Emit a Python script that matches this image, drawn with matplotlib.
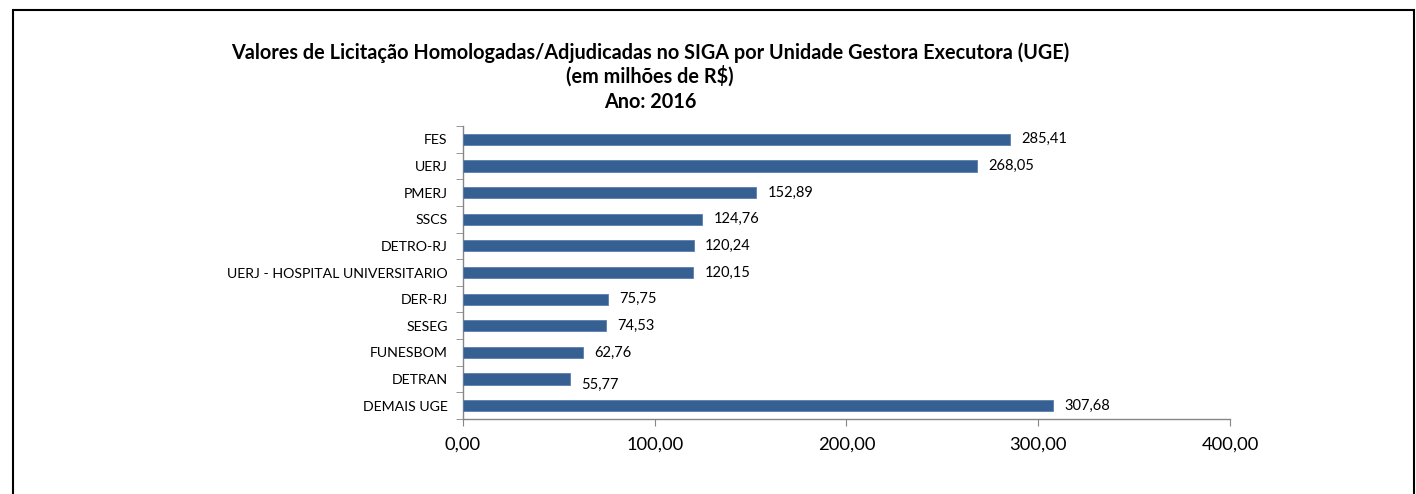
import matplotlib
matplotlib.use("Agg")
import matplotlib.pyplot as plt
from matplotlib.patches import Rectangle

categories = ["FES", "UERJ", "PMERJ", "SSCS", "DETRO-RJ", "UERJ - HOSPITAL UNIVERSITARIO",
              "DER-RJ", "SESEG", "FUNESBOM", "DETRAN", "DEMAIS UGE"]
values = [285.41, 268.05, 152.89, 124.76, 120.24, 120.15, 75.75, 74.53, 62.76, 55.77, 307.68]
value_labels = ["285,41", "268,05", "152,89", "124,76", "120,24", "120,15",
                "75,75", "74,53", "62,76", "55,77", "307,68"]
xticks = [0, 100, 200, 300, 400]
xtick_labels = ["0,00", "100,00", "200,00", "300,00", "400,00"]
title_lines = ["Valores de Licitação Homologadas/Adjudicadas no SIGA por Unidade Gestora Executora (UGE)",
               "(em milhões de R$)", "Ano: 2016"]

plt.rcParams['font.family'] = ['Lato', 'DejaVu Sans']

W, H = 1416, 494
fig = plt.figure(figsize=(W / 100, H / 100), dpi=100)

# outer frame (bottom edge lies beyond the image)
fig.patches.append(Rectangle((12.5 / W, -0.1), (1413.5 - 12.5) / W, 1.1 - 10.5 / H,
                             transform=fig.transFigure, fill=False, edgecolor='black',
                             linewidth=1.5, zorder=10))

x0, x1 = 463, 1230
y_top, y_bot = 126, 419
ax = fig.add_axes([x0 / W, 1 - y_bot / H, (x1 - x0) / W, (y_bot - y_top) / H])

n = len(categories)
ypos = list(range(n))
ax.barh(ypos, values, height=0.42, color='#376092', edgecolor='#5a7fb0', linewidth=0.6, zorder=3)
ax.set_ylim(n - 0.5, -0.5)
ax.set_xlim(0, 400)

ax.set_yticks(ypos)
ax.set_yticklabels(categories, fontsize=10.2)
ax.set_yticks([i - 0.5 for i in range(n + 1)], minor=True)
ax.tick_params(axis='y', which='major', length=0, pad=11)
ax.tick_params(axis='y', which='minor', length=5, color='#868686', direction='out')

ax.set_xticks(xticks)
ax.set_xticklabels(xtick_labels, fontsize=13.2)
ax.tick_params(axis='x', length=5, color='#868686', direction='out', pad=8)

for s in ['top', 'right']:
    ax.spines[s].set_visible(False)
for s in ['left', 'bottom']:
    ax.spines[s].set_color('#868686')
    ax.spines[s].set_linewidth(1)

offsets = [0, 0, 0, 0, 0, 0, 0, 0, 0, 4, 0]
for i, (v, lab) in enumerate(zip(values, value_labels)):
    ax.annotate(lab, (v, i), xytext=(8, -offsets[i]), textcoords='offset points',
                va='center', ha='left', fontsize=10.5)

ys = [53, 76, 102]
for t, y in zip(title_lines, ys):
    fig.text(650 / W, 1 - y / H, t, ha='center', va='center', fontsize=14.3, fontweight='bold')

fig.savefig("out.png", dpi=100)
